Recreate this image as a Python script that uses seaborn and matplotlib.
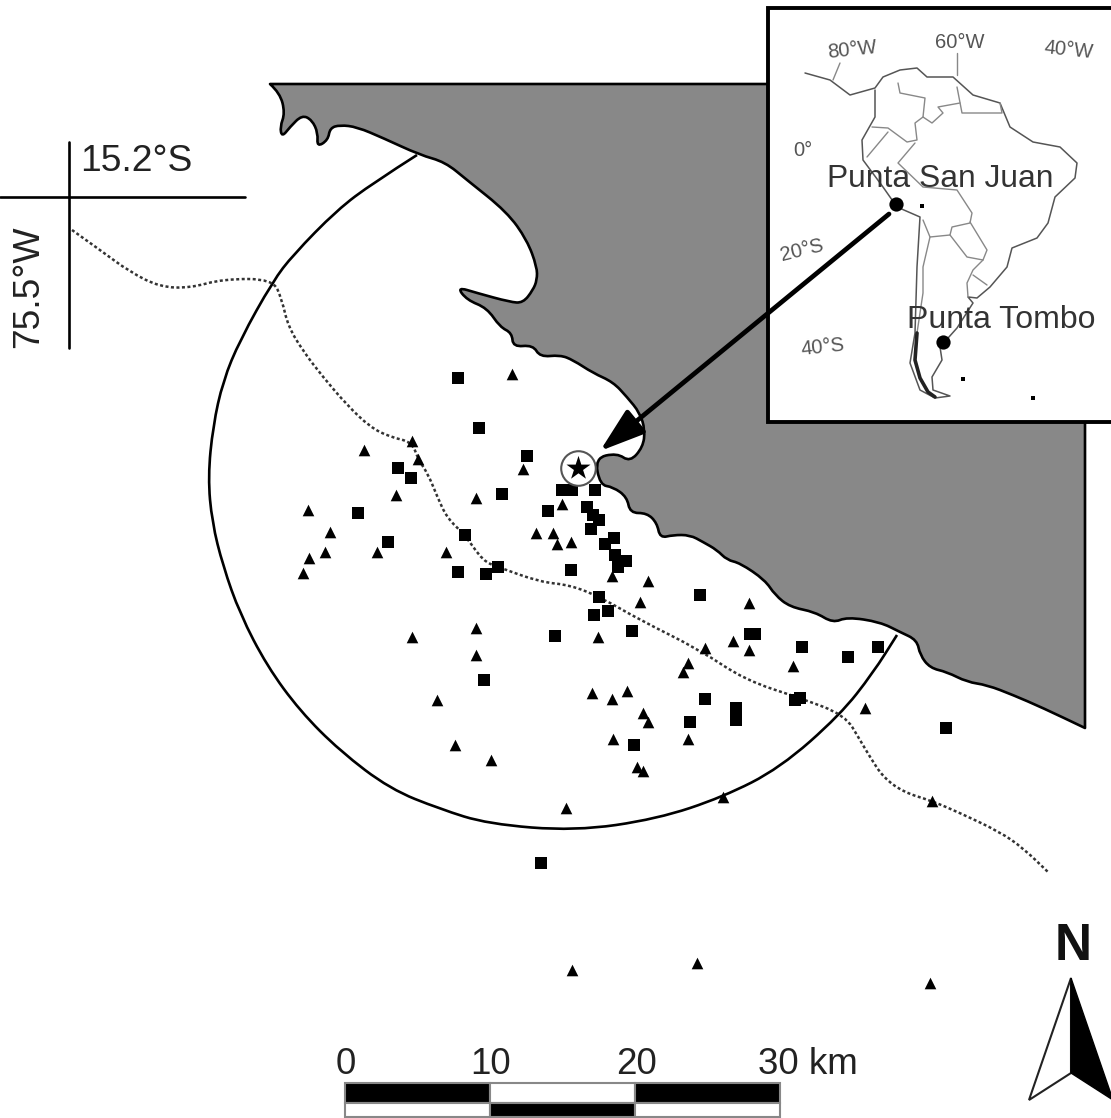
import matplotlib
matplotlib.use("Agg")
import matplotlib.pyplot as plt
from matplotlib.path import Path
from matplotlib.patches import PathPatch
import seaborn as sns

sns.set_theme(style="white")
plt.rcParams["font.family"] = ["Liberation Sans", "DejaVu Sans"]

# ---------- data (image pixel coordinates) ----------
square_x = [458, 479, 527, 502, 548, 465, 498, 486, 458, 571, 700, 608, 594, 632, 555, 398, 411, 358, 388,
            562, 572, 595, 587, 593, 599, 591, 605, 614, 615, 626, 618, 599,
            755, 750, 802, 878, 848, 705, 800, 795, 736, 736, 690, 634, 484, 946, 541]
square_y = [378, 428, 456, 494, 511, 535, 567, 574, 572, 570, 595, 611, 615, 631, 636, 468, 478, 513, 542,
            490, 490, 490, 507, 515, 520, 529, 544, 538, 555, 561, 567, 597,
            634, 634, 647, 647, 657, 699, 698, 700, 708, 720, 722, 745, 680, 728, 863]
triangle_x = [512, 476, 523, 562, 536, 553, 557, 571, 446, 612, 648, 640, 476, 598, 476, 733, 705,
              364, 412, 418, 396, 308, 330, 325, 309, 303, 377, 412,
              749, 749, 688, 683, 793, 592, 612, 627, 643, 648, 865, 613, 688, 637, 643, 566, 723,
              455, 491, 437, 572, 697, 930, 932]
triangle_y = [374, 498, 469, 504, 533, 533, 544, 542, 552, 576, 581, 602, 628, 637, 655, 641, 648,
              450, 441, 459, 495, 510, 532, 552, 558, 573, 552, 637,
              603, 650, 663, 672, 666, 693, 699, 691, 713, 722, 708, 739, 739, 767, 771, 808, 797,
              745, 760, 700, 970, 963, 983, 801]
colony_x = [578]
colony_y = [468]

coast_x = [270, 280, 285, 280, 282, 290, 302, 312, 318, 317, 328, 330, 340, 357, 383, 420, 445, 467, 507, 527,
           537, 537, 533, 523, 510, 477, 457, 467, 487, 500, 512, 513, 533, 540, 560, 573, 593, 613, 627, 640, 645,
           643, 630, 617, 595, 600, 613, 627, 630, 647, 657, 660, 673, 690, 703, 717, 727, 740, 765, 775, 790, 815,
           833, 847, 880, 900, 917, 920, 930, 947, 967, 987, 1013, 1043, 1085]
coast_y = [84, 93, 113, 127, 137, 127, 115, 120, 133, 147, 140, 128, 125, 127, 138, 155, 162, 180, 212, 240,
           267, 280, 290, 303, 302, 293, 287, 300, 308, 327, 333, 347, 345, 357, 355, 360, 373, 382, 397, 413, 430,
           447, 462, 453, 458, 485, 487, 497, 513, 513, 523, 538, 535, 535, 542, 550, 560, 563, 580, 595, 607, 612,
           623, 617, 622, 632, 640, 655, 668, 672, 682, 685, 695, 708, 728]
land_corner_x = [1085]
land_corner_y = [84]

radius_x = [417, 373, 337, 293, 273, 240, 223, 213, 208, 212, 223, 240, 267, 300, 340, 390, 440, 488, 575, 657,
            723, 780, 840, 873, 897]
radius_y = [155, 183, 210, 255, 281, 340, 381, 426, 477, 522, 566, 614, 666, 711, 751, 789, 809, 824, 831, 819,
            797, 768, 715, 673, 635]

contour_x = [72, 100, 130, 160, 190, 223, 273, 282, 288, 303, 323, 347, 370, 390, 412, 418, 428, 437, 447, 465,
             483, 498, 540, 570, 600, 640, 700, 745, 800, 845, 860, 870, 883, 903, 932, 960, 1000, 1023, 1048]
contour_y = [230, 250, 272, 287, 288, 279, 279, 300, 326, 351, 377, 405, 427, 437, 442, 459, 474, 496, 518, 535,
             561, 567, 582, 585, 597, 620, 650, 680, 698, 715, 740, 757, 777, 792, 801, 813, 832, 848, 872]

sa_x = [805, 830, 850, 875, 883, 900, 917, 927, 953, 973, 1000, 1010, 1033, 1060, 1077, 1075, 1055, 1048, 1037,
        1012, 1007, 990, 977, 968, 973, 957, 940, 942, 932, 933, 950, 935, 920, 910, 915, 917, 920, 897, 883, 863,
        862, 875, 875]
sa_y = [73, 80, 95, 88, 77, 70, 68, 77, 77, 95, 103, 127, 142, 147, 163, 178, 197, 223, 238,
        248, 267, 287, 298, 297, 303, 328, 347, 360, 377, 390, 396, 398, 390, 363, 333, 267, 217, 207, 187, 160,
        140, 117, 90]
borders = [
    ([898, 900, 925, 923, 932, 943, 938, 960], [83, 93, 98, 117, 123, 113, 107, 103]),
    ([957, 962, 1002, 1000], [87, 113, 113, 103]),
    ([872, 888, 907, 917, 915, 923], [127, 128, 142, 140, 123, 117]),
    ([867, 888], [157, 132]),
    ([915, 898, 923, 957, 972, 970, 952, 950, 930, 923], [143, 163, 187, 190, 213, 223, 227, 235, 237, 220]),
    ([970, 987, 983, 967, 950], [222, 250, 260, 257, 235]),
    ([930, 923, 923, 917], [237, 267, 293, 333]),
    ([983, 973, 967, 968], [260, 270, 283, 297]),
    ([973, 987], [275, 285]),
    ([957, 957], [53, 75]),
    ([840, 833], [63, 80]),
]
place_x = [896, 943]
place_y = [204, 342]
small_land_x = [922, 963, 1033]
small_land_y = [206, 379, 398]

scale_edges = [345, 490, 635]
scale_width = [145, 145, 145]
scale_labels = ["0", "10", "20"]
inset_labels = ["80°W", "60°W", "40°W", "0°", "20°S", "40°S"]


def smooth_path(xs, ys, corners=None):
    """Quadratic curve through the read points' midpoints, drawn as a matplotlib path."""
    verts = [(xs[0], ys[0])]
    codes = [Path.MOVETO]
    for i in range(1, len(xs) - 1):
        verts += [(xs[i], ys[i]), ((xs[i] + xs[i + 1]) / 2, (ys[i] + ys[i + 1]) / 2)]
        codes += [Path.CURVE3, Path.CURVE3]
    verts.append((xs[-1], ys[-1]))
    codes.append(Path.LINETO)
    if corners:
        for c in corners:
            verts.append(c)
            codes.append(Path.LINETO)
        verts.append(verts[0])
        codes.append(Path.CLOSEPOLY)
    return Path(verts, codes)


# ---------- figure: one axes that spans the image ----------
fig = plt.figure(figsize=(11.11, 11.18), dpi=100)
ax = fig.add_axes([0, 0, 1, 1])
ax.set_xlim(0, 1111)
ax.set_ylim(1118, 0)
ax.axis("off")

LW = 1.9
ax.add_patch(PathPatch(smooth_path(coast_x, coast_y, list(zip(land_corner_x, land_corner_y))),
                       facecolor="#888888", edgecolor="black", lw=LW, joinstyle="round", zorder=1))
ax.add_patch(PathPatch(smooth_path(radius_x, radius_y), fill=False, edgecolor="black", lw=LW, zorder=2))
ax.add_patch(PathPatch(smooth_path(contour_x, contour_y), fill=False, edgecolor="#333333", lw=1.8,
                       linestyle=(0, (1.2, 1.0)), zorder=2))

# crosshair
ax.plot([69, 69], [142, 348], color="black", lw=1.9)
ax.plot([0, 245], [197, 197], color="black", lw=1.9)
ax.text(80, 171, "15.2°S", fontsize=26.8, color="#222222", va="baseline", ha="left")
ax.text(29, 287, "75.5°W", fontsize=26.8, color="#222222", va="center", ha="center", rotation=90)

# sites
sns.scatterplot(x=square_x, y=square_y, marker="s", s=80, color="black", linewidth=0, ax=ax, zorder=4, legend=False)
sns.scatterplot(x=triangle_x, y=triangle_y, marker="^", s=70, color="black", linewidth=0, ax=ax, zorder=4, legend=False)
sns.scatterplot(x=colony_x, y=colony_y, marker="o", s=620, facecolor="white", edgecolor="#555555", linewidth=1.5,
                ax=ax, zorder=5, legend=False)
sns.scatterplot(x=colony_x, y=colony_y, marker="*", s=330, color="black", linewidth=0, ax=ax, zorder=6, legend=False)

# inset
ax.fill([768, 1116, 1116, 768], [8, 8, 422, 422], facecolor="white", edgecolor="black", linewidth=2.8, zorder=7)
ax.plot(sa_x, sa_y, color="#555555", lw=1.1, zorder=8)
for bx, by in borders:
    ax.plot(bx, by, color="#888888", lw=1.0, zorder=8)
sns.scatterplot(x=place_x, y=place_y, marker="o", s=105, color="black", linewidth=0, ax=ax, zorder=9, legend=False)
sns.scatterplot(x=small_land_x, y=small_land_y, marker="s", s=10, color="black", linewidth=0, ax=ax, zorder=9, legend=False)
ax.plot([917, 915, 920, 928, 935], [333, 360, 378, 392, 397], color="#222222", lw=2.6, zorder=8)

inset_pos = [(852, 50, 6), (960, 43, 0), (1069, 50, -6), (803, 150, 0), (802, 250, 14), (823, 347, 6)]
for label, (tx, ty, rot) in zip(inset_labels, inset_pos):
    ax.text(tx, ty, label, fontsize=14.5, color="#555555", ha="center", va="center", rotation=rot, zorder=10)
ax.text(940, 187, "Punta San Juan", fontsize=22.9, color="#333333", ha="center", va="baseline", zorder=10)
ax.text(1001, 328, "Punta Tombo", fontsize=23, color="#333333", ha="center", va="baseline", zorder=10)

# arrow from the inset to the colony
ax.annotate("", xy=(600, 451), xytext=(889, 214), zorder=11,
            arrowprops=dict(arrowstyle="-|>,head_length=1.15,head_width=0.38", color="black", lw=3.4,
                            shrinkA=0, shrinkB=0, mutation_scale=24))

# scale bar
ax.bar(scale_edges, [20, 20, 20], width=scale_width, bottom=1083, align="edge",
       color=["black", "white", "black"], edgecolor="#888888", linewidth=1.5, zorder=3)
ax.bar(scale_edges, [14, 14, 14], width=scale_width, bottom=1103, align="edge",
       color=["white", "black", "white"], edgecolor="#888888", linewidth=1.5, zorder=3)
for label, edge in zip(scale_labels, scale_edges):
    ax.text(edge + 1, 1074, label, fontsize=26.5, color="#222222", ha="center", va="baseline")
ax.text(758, 1074, "30 km", fontsize=26.5, color="#222222", ha="left", va="baseline")

# north arrow
ax.text(1073, 960, "N", fontsize=37, fontweight="bold", color="#111111", ha="center", va="baseline")
ax.fill([1071, 1029, 1071], [978, 1100, 1073], facecolor="white", edgecolor="#222222", linewidth=1.5, joinstyle="miter")
ax.fill([1071, 1071, 1113], [978, 1073, 1100], facecolor="black", edgecolor="black", linewidth=1.0)

fig.savefig("out.png", dpi=100, facecolor="white")
